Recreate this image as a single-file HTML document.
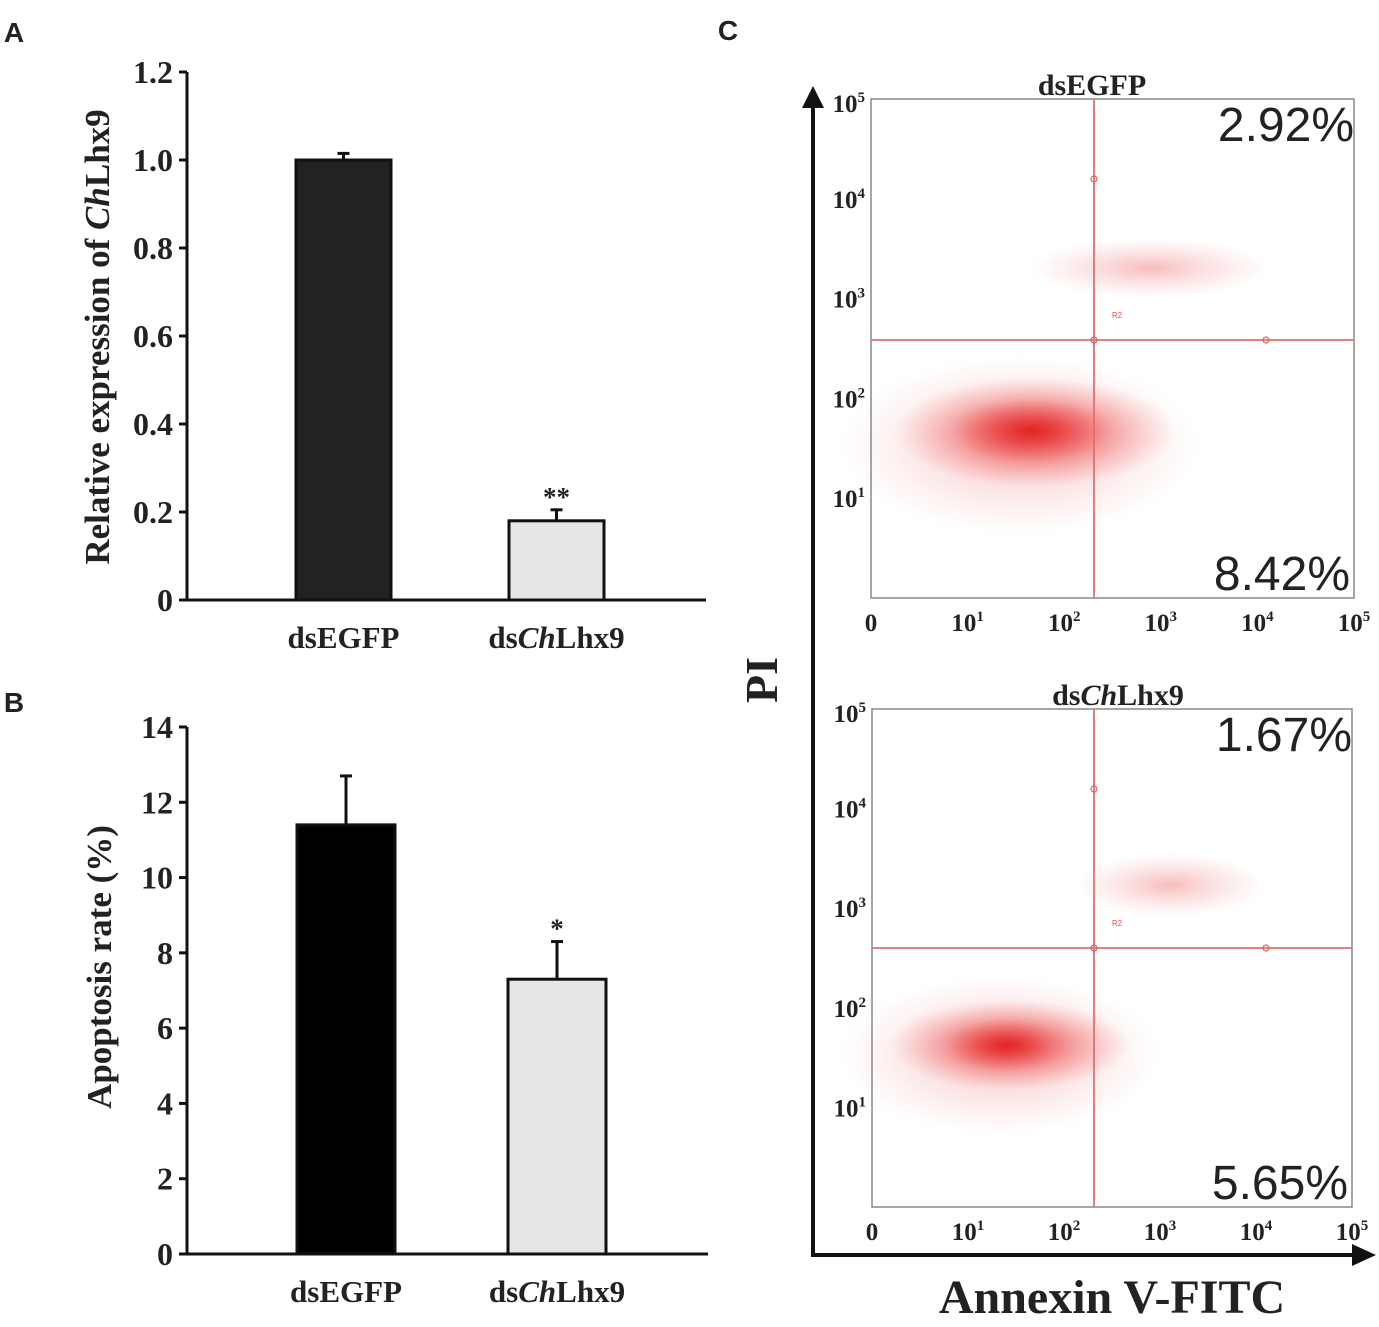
<!DOCTYPE html>
<html><head><meta charset="utf-8"><style>
body{margin:0;background:#fff}
svg text{font-family:"Liberation Serif",serif;font-weight:bold;fill:#222}
</style></head><body>
<svg width="1379" height="1322" viewBox="0 0 1379 1322" xmlns="http://www.w3.org/2000/svg">
<defs>
<radialGradient id="cloud" cx="50%" cy="50%" r="50%">
<stop offset="0" stop-color="#e01818" stop-opacity="0.75"/>
<stop offset="0.45" stop-color="#e83030" stop-opacity="0.45"/>
<stop offset="1" stop-color="#f06060" stop-opacity="0"/>
</radialGradient>
<radialGradient id="faint" cx="50%" cy="50%" r="50%">
<stop offset="0" stop-color="#e84040" stop-opacity="0.35"/>
<stop offset="1" stop-color="#f08080" stop-opacity="0"/>
</radialGradient>
</defs>
<g id="root"></g>
</svg>
<script>
// Panel A data
const catsA = ["dsEGFP", "dsChLhx9"];
const valsA = [1.0, 0.18];
const errA = [0.015, 0.025];
const ticksA = ["0", "0.2", "0.4", "0.6", "0.8", "1.0", "1.2"];
const ticksAVal = [0, 0.2, 0.4, 0.6, 0.8, 1.0, 1.2];
// Panel B data
const catsB = ["dsEGFP", "dsChLhx9"];
const valsB = [11.4, 7.3];
const errB = [1.3, 1.0];
const ticksBVal = [0, 2, 4, 6, 8, 10, 12, 14];
// Panel C data
const pctTop = ["2.92%", "8.42%"];
const pctBot = ["1.67%", "5.65%"];

const NS = "http://www.w3.org/2000/svg";
const root = document.getElementById('root');
function mk(tag, attrs, parent){const e=document.createElementNS(NS,tag);for(const k in attrs)e.setAttribute(k,attrs[k]);(parent||root).appendChild(e);return e;}
function txt(x,y,s,size,anchor,parent){const t=mk('text',{x:x,y:y,'font-size':size,'text-anchor':anchor||'middle'},parent);t.textContent=s;return t;}

function label(x,y,size,parent,italic){
  const t=mk('text',{x:x,y:y,'font-size':size,'text-anchor':'middle'},parent);
  if(italic){
    const a=mk('tspan',{},t);a.textContent='ds';
    const b=mk('tspan',{'font-style':'italic'},t);b.textContent='Ch';
    const c=mk('tspan',{},t);c.textContent='Lhx9';
  } else t.textContent='dsEGFP';
  return t;
}

function barPanel(name, cats, vals, errs, tickVals, tickFmt, ymax, x0, x1, yTop, yBot, colors, barX, barW, stars){
  const g=mk('g',{});
  
  
  const sy=v=>yBot-(v/ymax)*(yBot-yTop);
  const ax=mk('line',{x1:x0,y1:yTop,x2:x0,y2:yBot+1.5,stroke:'#111','stroke-width':3},g);
  
  
  tickVals.forEach((v,i)=>{
    const tk=mk('line',{x1:x0-8,y1:sy(v),x2:x0,y2:sy(v),stroke:'#111','stroke-width':3},g);
    
    
    const t=txt(x0-14,sy(v)+11,tickFmt(v,i),32,'end',g);
    
    
  });
  vals.forEach((v,i)=>{
    const top=sy(v+errs[i]);
    const cx=barX[i]+barW/2;
    const el=mk('line',{x1:cx,y1:top,x2:cx,y2:sy(v),stroke:'#111','stroke-width':3},g);
    
    
    const ec=mk('line',{x1:cx-6,y1:top,x2:cx+6,y2:top,stroke:'#111','stroke-width':3},g);
    
    
    const r=mk('rect',{x:barX[i],y:sy(v),width:barW,height:yBot-sy(v),fill:colors[i],stroke:'#111','stroke-width':3},g);
    
    
    const l=label(cx,yBot+48,31,g,i===1);
    
    
    if(stars[i]){const s=txt(cx,top-4,stars[i],27,'middle',g);
      
      }
  });
  const xa=mk('line',{x1:x0-1.5,y1:yBot,x2:x1,y2:yBot,stroke:'#111','stroke-width':3},g);
  
  
  return {g,sy};
}

const pa=barPanel('panel-a',catsA,valsA,errA,ticksAVal,(v,i)=>ticksA[i],1.2,187,706,72,600,['#222','#e6e6e6'],[296,509],95,['', '**']);
const ta=mk('text',{x:0,y:0,'font-size':35,'text-anchor':'middle',transform:'translate(109,337) rotate(-90)'},pa.g);


{const a=mk('tspan',{},ta);a.textContent='Relative expression of ';const b=mk('tspan',{'font-style':'italic'},ta);b.textContent='Ch';const c=mk('tspan',{},ta);c.textContent='Lhx9';}
const pb=barPanel('panel-b',catsB,valsB,errB,ticksBVal,v=>String(v),14,187,708,727,1254,['#000','#e6e6e6'],[297,508],98,['', '*']);
const tb=mk('text',{x:0,y:0,'font-size':35,'text-anchor':'middle',transform:'translate(111,967) rotate(-90)'},pb.g);
tb.textContent='Apoptosis rate (%)';



[['A',14,42],['B',14,712],['C',728,40]].forEach(p=>{
  const t=mk('text',{x:p[1],y:p[2],'font-size':28,'text-anchor':'middle',style:'font-family:"Liberation Sans",sans-serif'});
  t.textContent=p[0];
  
  
});

const gc=mk('g',{});


const va=mk('line',{x1:813,y1:1256,x2:813,y2:104,stroke:'#111','stroke-width':4},gc);


const vah=mk('polygon',{points:'813,86 802,108 824,108',fill:'#111'},gc);


const ha=mk('line',{x1:811,y1:1255,x2:1356,y2:1255,stroke:'#111','stroke-width':4},gc);


const hah=mk('polygon',{points:'1376,1255 1352,1244 1352,1266',fill:'#111'},gc);


const pit=mk('text',{x:0,y:0,'font-size':46,'text-anchor':'middle',transform:'translate(777,680) rotate(-90)'},gc);
pit.textContent='PI';


const ant=txt(1112,1313,'Annexin V-FITC',48,'middle',gc);



function flow(name,bx0,by0,bx1,by1,qx,qy,titleX,italic,pcts,clouds){
  const g=mk('g',{},gc);
  
  
  clouds.forEach(c=>{
    const e=mk('ellipse',{cx:c[0],cy:c[1],rx:c[2],ry:c[3],fill:c[4]},g);
    
    
  });
  const b=mk('rect',{x:bx0,y:by0,width:bx1-bx0,height:by1-by0,fill:'none',stroke:'#888','stroke-width':1.5},g);
  
  
  const l1=mk('line',{x1:qx,y1:by0,x2:qx,y2:by1,stroke:'#e07070','stroke-width':1.8},g);
  
  
  const l2=mk('line',{x1:bx0,y1:qy,x2:bx1,y2:qy,stroke:'#e07070','stroke-width':1.8},g);
  
  
  [[qx,by0+80],[qx,qy],[qx+172,qy]].forEach(p=>{
    const c=mk('circle',{cx:p[0],cy:p[1],r:3,fill:'none',stroke:'#e06060','stroke-width':1.2},g);
    
    
  });
  const r2=mk('text',{x:qx+18,y:qy-22,'font-size':8,style:'font-family:"Liberation Sans",sans-serif;font-weight:normal;fill:#e05050'},g);
  r2.textContent='R2';
  
  
  const t=label(titleX,by0-4,30,g,italic);
  
  
  const p1=mk('text',{x:bx1,y:by0+42,'font-size':48,'text-anchor':'end',style:'font-family:"Liberation Sans",sans-serif;font-weight:normal'},g);
  p1.textContent=pcts[0];
  
  
  const p2=mk('text',{x:bx1-4,y:by1-8,'font-size':48,'text-anchor':'end',style:'font-family:"Liberation Sans",sans-serif;font-weight:normal'},g);
  p2.textContent=pcts[1];
  
  
  const dy=(by1-by0)/5;
  for(let k=1;k<=5;k++){
    const yy=by1-dy*k;
    const tl=mk('text',{x:bx0-6,y:yy+9+(k===5?4:0),'font-size':25,'text-anchor':'end'},g);
    const a=mk('tspan',{},tl);a.textContent='10';
    const s=mk('tspan',{dy:-10,'font-size':15},tl);s.textContent=String(k);
    
    
  }
  const dx=(bx1-bx0)/5;
  for(let k=0;k<=5;k++){
    const xx=bx0+dx*k;
    const tl=mk('text',{x:xx,y:by1+33,'font-size':25,'text-anchor':'middle'},g);
    if(k===0){tl.textContent='0';}
    else{const a=mk('tspan',{},tl);a.textContent='10';const s=mk('tspan',{dy:-10,'font-size':15},tl);s.textContent=String(k);}
    
    
  }
}
flow('flow-dsegfp',871,99,1354,598,1094,340,1092,false,pctTop,[
  [1020,445,180,90,'url(#faint)'],[1035,432,140,55,'url(#cloud)'],[1030,430,80,32,'url(#cloud)'],
  [1150,268,120,30,'url(#faint)']]);
flow('flow-dschlhx9',872,709,1352,1207,1094,948,1118,true,pctBot,[
  [1000,1055,160,80,'url(#faint)'],[1010,1045,120,45,'url(#cloud)'],[1005,1045,60,26,'url(#cloud)'],
  [1170,885,95,32,'url(#faint)']]);
</script>
</body></html>
